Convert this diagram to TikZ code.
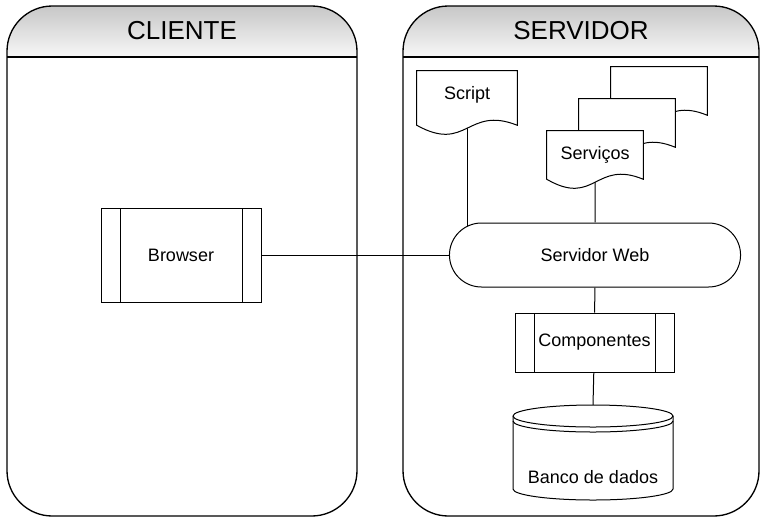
\documentclass[tikz,border=0pt]{standalone}
\usepackage{fontspec}
\setmainfont{Liberation Sans}
\usetikzlibrary{shapes.misc,positioning,calc,backgrounds}
\pgfdeclarelayer{shapes}
\pgfsetlayers{background,shapes,main}

\definecolor{hdrtop}{gray}{0.78}
\definecolor{hdrbot}{gray}{0.97}

% document outline with a wavy bottom edge
\newcommand{\docoutline}[1]{%
  \begin{pgfonlayer}{shapes}
    \draw[fill=white, line width=0.75pt] (#1.south west) -- (#1.north west) -- (#1.north east) -- (#1.south east)
      .. controls ($(#1.south)+(0,-20)$) and ($(#1.south)+(0,28)$) .. (#1.south west) -- cycle;
  \end{pgfonlayer}}

\begin{document}
\begin{tikzpicture}[
    x=0.75pt, y=-0.75pt,
    every node/.style={font=\fontsize{13.5}{16}\selectfont},
    panel/.style={draw, line width=1pt},
    title/.style={font=\fontsize{19.5}{23}\selectfont},
    process/.style={rectangle, draw, fill=white, line width=0.75pt,
        path picture={
            \draw ($(path picture bounding box.north west)+(19,0)$) -- ($(path picture bounding box.south west)+(19,0)$);
            \draw ($(path picture bounding box.north east)+(-19,0)$) -- ($(path picture bounding box.south east)+(-19,0)$);}},
    server/.style={rounded rectangle, draw, fill=white, line width=0.75pt, minimum width=225pt, minimum height=48pt},
    doc/.style={rectangle, inner sep=0pt},
    link/.style={draw, line width=0.75pt}
]
\useasboundingbox (0,0) rectangle (762,518);

% Swimlanes
\foreach \xa/\xb/\name/\title in {7/357/cliente/CLIENTE, 403/759/servidor/SERVIDOR} {
    \begin{scope}
        \clip[rounded corners=34pt] (\xa,6) rectangle (\xb,516);
        \shade[top color=hdrtop, bottom color=hdrbot] (\xa,6) rectangle (\xb,57);
    \end{scope}
    \draw[panel, rounded corners=34pt] (\xa,6) rectangle (\xb,516);
    \draw[panel] (\xa,57) -- (\xb,57);
    \node[title] (\name) at ({(\xa+\xb)/2},31) {\title};
}

% Client side
\node[process, minimum width=120pt, minimum height=70.5pt] (browser) at (181,255) {Browser};

% Server side
\node[server] (web) at (595,255) {Servidor Web};

\node[doc, minimum width=75pt, minimum height=40.5pt, text depth=8pt] (script) at (467,98) {Script};
\docoutline{script}

\node[doc, minimum width=72pt, minimum height=36pt] (serv3) at (659,91) {};
\docoutline{serv3}
\node[doc, minimum width=72pt, minimum height=36pt] (serv2) at (627,123) {};
\docoutline{serv2}
\node[doc, minimum width=72pt, minimum height=36pt] (serv1) at (595,155) {Serviços};
\docoutline{serv1}

\node[process, minimum width=119.25pt, minimum height=44.25pt] (comp) at (594.5,342.5) {Componentes};

% Database
\coordinate (dbtop) at (593,405);
\node (db) at (593,477) {Banco de dados};
\begin{pgfonlayer}{shapes}
    \draw[fill=white, line width=0.75pt] (513,416) -- (513,489)
        arc[start angle=180, end angle=360, x radius=60pt, y radius=8.25pt] -- (673,416)
        arc[start angle=0, end angle=180, x radius=60pt, y radius=8.25pt] -- cycle;
    \draw[line width=0.75pt] (513,416) arc[start angle=180, end angle=360, x radius=60pt, y radius=8.25pt];
    \draw[line width=0.75pt] (513,421) arc[start angle=180, end angle=360, x radius=60pt, y radius=8.25pt];
\end{pgfonlayer}

% Connections
\begin{scope}[on background layer]
    \draw[link] (browser) -- (web);
    \draw[link] (script.south) -- (script.south |- web.center);
    \draw[link] (serv1) -- (web);
    \draw[link] (web) -- (comp);
    \draw[link] (comp) -- (dbtop);
\end{scope}

\end{tikzpicture}
\end{document}
